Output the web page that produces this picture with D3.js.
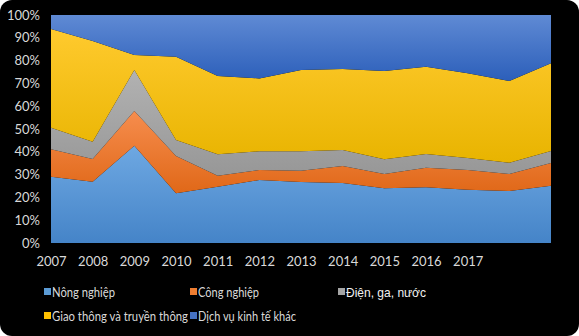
<!DOCTYPE html>
<html><head><meta charset="utf-8">
<script src="https://cdn.jsdelivr.net/npm/d3@7"></script>
<style>
html,body{margin:0;padding:0;background:#fff;}
svg{display:block;}
</style></head>
<body>
<svg id="chart" width="579" height="336"></svg>
<script>
const years = ["2007","2008","2009","2010","2011","2012","2013","2014","2015","2016","2017","2018","2019"];
const xTickLabels = ["2007","2008","2009","2010","2011","2012","2013","2014","2015","2016","2017","",""];
const yTickValues = [0,0.1,0.2,0.3,0.4,0.5,0.6,0.7,0.8,0.9,1];
const seriesNames = ["Nông nghiệp","Công nghiệp","Điện, ga, nước","Giao thông và truyền thông","Dịch vụ kinh tế khác"];
const nongNghiep = [29.1,26.9,42.7,21.8,24.7,27.6,26.8,26.3,24.0,24.4,23.4,22.8,25.1];
const congNghiep = [12.0,9.9,15.2,16.4,4.8,4.4,4.9,7.5,6.3,8.6,8.6,7.5,10.0];
const dienGaNuoc = [9.5,7.6,18.0,7.0,9.4,8.2,8.5,7.0,6.4,6.0,5.3,4.9,5.3];
const giaoThong = [43.3,44.2,6.6,36.5,34.3,32.0,35.7,35.5,38.7,38.3,37.1,35.9,38.4];
const dichVuKhac = [6.1,11.4,17.5,18.3,26.8,27.8,24.1,23.7,24.6,22.7,25.6,28.9,21.2];

const seriesValues = [nongNghiep, congNghiep, dienGaNuoc, giaoThong, dichVuKhac];
const gradColors = [
  ["#6ea8e2","#4584c8"],
  ["#f68d4e","#e06818"],
  ["#b2b2b2","#979797"],
  ["#ffca2e","#e8b400"],
  ["#5f8ad4","#2c5fba"]
];
const legendColors = ["#5b9bd5","#ed7d31","#a5a5a5","#ffc000","#4472c4"];

const rows = years.map((y,i)=>{ const o={year:y}; seriesNames.forEach((s,k)=>o[s]=seriesValues[k][i]); return o; });

const svg = d3.select("#chart");
const W=579,H=336;
svg.append("rect").attr("x",0).attr("y",0).attr("width",W).attr("height",H).attr("rx",12).attr("ry",12).attr("fill","#000");

const defs = svg.append("defs");
gradColors.forEach((c,i)=>{
  const g = defs.append("linearGradient").attr("id","g"+i).attr("x1",0).attr("y1",0).attr("x2",0).attr("y2",1);
  g.append("stop").attr("offset","0%").attr("stop-color",c[0]);
  g.append("stop").attr("offset","100%").attr("stop-color",c[1]);
});

const x = d3.scalePoint().domain(years).range([51,551]);
const y = d3.scaleLinear().domain([0,1]).range([243,15]);

const stack = d3.stack().keys(seriesNames).offset(d3.stackOffsetExpand);
const layers = stack(rows);
const area = d3.area().x(d=>x(d.data.year)).y0(d=>y(d[0])).y1(d=>y(d[1]));

svg.append("g").selectAll("path").data(layers).join("path")
  .attr("d",area).attr("fill",(d,i)=>"url(#g"+i+")");

const font = "Lato, 'Open Sans', sans-serif";
const txt = "#d9d9d9";

const yAxis = svg.append("g").attr("transform","translate(51,0)")
  .call(d3.axisLeft(y).tickValues(yTickValues).tickFormat(d3.format(".0%")).tickSize(0).tickPadding(11));
yAxis.select(".domain").remove();
yAxis.selectAll("text").attr("fill",txt).style("font-family",font).style("font-size","13px");

const xAxis = svg.append("g").attr("transform","translate(0,243)")
  .call(d3.axisBottom(x).tickFormat((d,i)=>xTickLabels[i]).tickSize(0).tickPadding(14));
xAxis.select(".domain").remove();
xAxis.selectAll("text").attr("fill",txt).style("font-family",font).style("font-size","13px");

const legendPos = [[47,292],[193,292],[341,292],[47,316],[193,316]];
const legendWidths = [63,61,80,136,98];
const lg = svg.append("g");
seriesNames.forEach((s,i)=>{
  const [lx,ly]=legendPos[i];
  lg.append("rect").attr("x",lx-3).attr("y",ly-4).attr("width",7).attr("height",7).attr("fill",legendColors[i]);
  lg.append("text").attr("x",lx+5).attr("y",ly).attr("dy","0.35em")
    .attr("fill", i===2 ? "#f2f2f2" : txt)
    .attr("textLength", legendWidths[i]).attr("lengthAdjust","spacingAndGlyphs")
    .style("font-family", i===2 ? "'Liberation Sans', Arial, sans-serif" : font)
    .style("font-size","13px").text(s);
});
</script>
</body></html>
